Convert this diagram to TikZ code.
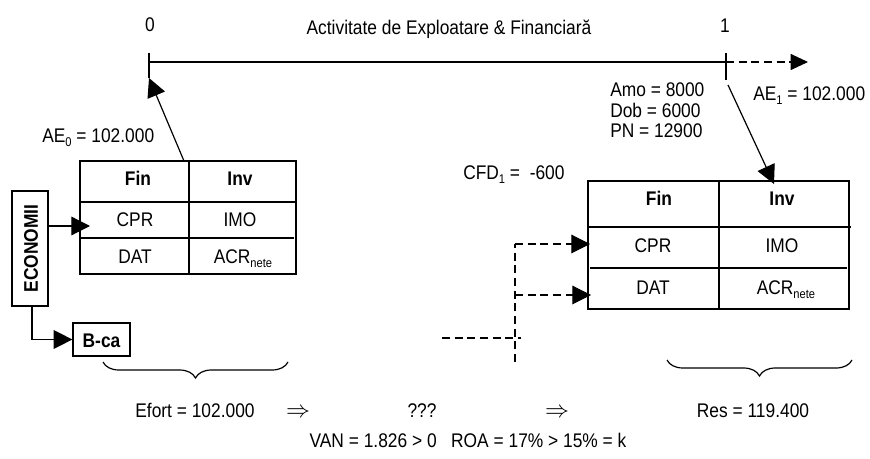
\documentclass[tikz,border=0pt]{standalone}
\usepackage{fontspec}
\setmainfont{Liberation Sans}[FakeStretch=0.88]
\usetikzlibrary{arrows.meta,decorations.pathreplacing}
\newcommand\sbs[1]{\raisebox{-0.3ex}{\fontsize{9.5}{10}\selectfont #1}}
\begin{document}
\begin{tikzpicture}[x=0.75pt,y=-0.75pt,
  font=\fontsize{14.8}{17}\selectfont,
  ln/.style={line width=0.9pt},
  tip/.style={ln,-{Triangle[length=14pt,width=14pt]}},
  dsh/.style={line width=0.8pt,dash pattern=on 6pt off 3.5pt},
  box/.style={draw,line width=0.9pt,inner sep=0pt},
  txt/.style={inner sep=0pt,anchor=base},
  txtw/.style={inner sep=0pt,anchor=base west},
  brc/.style={ln,decorate,decoration={brace,mirror,amplitude=12pt}}]
\useasboundingbox (0,0) rectangle (870,459);

% timeline
\coordinate (t0) at (149,62);
\coordinate (t1) at (726,62);
\coordinate (tend) at (808,62);
\coordinate (t0top) at (149,53);
\coordinate (t0bot) at (149,78);
\coordinate (t1top) at (726,53);
\coordinate (t1bot) at (726,80);
\draw[ln] (t0) -- (t1);
\draw[ln] (t0top) -- (t0bot);
\draw[ln] (t1top) -- (t1bot);
\draw[dsh,-{Triangle[length=13pt,width=12pt]}] (t1) -- (tend);

\node[txt] (n0) at (150,32) {0};
\node[txt] (n1) at (725,33) {1};
\node[txt] (title) at (449,35) {Activitate de Exploatare \& Financiară};

% left table
\node[box,minimum width=162pt,minimum height=84.75pt] (ltab) at (188,217.5) {};
\coordinate (lc1) at (189,161);
\coordinate (lc2) at (189,274);
\coordinate (lr1a) at (80,202); \coordinate (lr1b) at (297,202);
\coordinate (lr2a) at (80,238); \coordinate (lr2b) at (294,238);
\draw[ln] (lc1) -- (lc2);
\draw[ln] (lr1a) -- (lr1b);
\draw[ln] (lr2a) -- (lr2b);
\node[txt,font=\fontsize{14.8}{17}\selectfont\bfseries] (lfin) at (138,186) {Fin};
\node[txt,font=\fontsize{14.8}{17}\selectfont\bfseries] (linv) at (240,186) {Inv};
\node[txt] (lcpr) at (135,227) {CPR};
\node[txt] (limo) at (240,227) {IMO};
\node[txt] (ldat) at (135,264) {DAT};
\node[txt] (lacr) at (243,264) {ACR\sbs{nete}};

% right table
\node[box,minimum width=195.75pt,minimum height=96pt] (rtab) at (718.5,245) {};
\coordinate (rc1) at (719,181);
\coordinate (rc2) at (719,309);
\coordinate (rr1a) at (588,227); \coordinate (rr1b) at (851,227);
\coordinate (rr2a) at (590,268); \coordinate (rr2b) at (847,268);
\draw[ln] (rc1) -- (rc2);
\draw[ln] (rr1a) -- (rr1b);
\draw[ln] (rr2a) -- (rr2b);
\node[txt,font=\fontsize{14.8}{17}\selectfont\bfseries] (rfin) at (659,206) {Fin};
\node[txt,font=\fontsize{14.8}{17}\selectfont\bfseries] (rinv) at (782,206) {Inv};
\node[txt] (rcpr) at (653,253) {CPR};
\node[txt] (rimo) at (782,253) {IMO};
\node[txt] (rdat) at (653,295) {DAT};
\node[txt] (racr) at (786,295) {ACR\sbs{nete}};

% ECONOMII and B-ca
\node[box,minimum width=27pt,minimum height=86.25pt] (econ) at (30,248.5) {};
\node[rotate=90,inner sep=0pt,font=\fontsize{14.8}{17}\selectfont\bfseries] (econt) at (31,248.5) {ECONOMII};
\node[box,minimum width=42.75pt,minimum height=24.75pt] (bca) at (101.5,339.5) {};
\node[txt,font=\fontsize{14.8}{17}\selectfont\bfseries] (bcat) at (101.5,348) {B-ca};
\coordinate (eout) at (48,226);
\coordinate (ein) at (90,226);
\draw[tip] (eout) -- (ein);
\coordinate (edown) at (32,306);
\draw[tip] (edown) |- (bca.west);

% AE0 arrow
\coordinate (a0s) at (184,161);
\draw[tip] (a0s) -- (t0bot);
\node[txtw] (ae0) at (42,143) {AE\sbs{0} = 102.000};

% AE1 arrow
\coordinate (a1s) at (728,85);
\coordinate (a1e) at (774,184);
\draw[tip] (a1s) -- (a1e);
\node[txtw] (ae1) at (753,101) {AE\sbs{1} = 102.000};
\node[txtw] (amo) at (610,97) {Amo = 8000};
\node[txtw] (dob) at (610,118) {Dob = 6000};
\node[txtw] (pn) at (610,138) {PN = 12900};
\node[txtw] (cfd) at (463,180) {CFD\sbs{1} =\ \ -600};

% dashed connectors
\coordinate (dv1) at (515,244);
\coordinate (dv2) at (515,362);
\coordinate (dm) at (515,295);
\coordinate (dh1) at (442,338);
\coordinate (dh2) at (521,338);
\coordinate (cpre) at (590,244);
\coordinate (date) at (591,295);
\draw[dsh] (dv2) -- (dv1);
\draw[dsh,-{Triangle[length=14pt,width=14pt]}] (dv1) -- (cpre);
\draw[dsh,-{Triangle[length=14pt,width=14pt]}] (dm) -- (date);
\draw[dsh] (dh1) -- (dh2);

% braces
\coordinate (b1a) at (103,362); \coordinate (b1b) at (288,362);
\coordinate (b2a) at (667,360); \coordinate (b2b) at (852,360);
\draw[brc] (b1a) -- (b1b);
\draw[brc] (b2a) -- (b2b);

% bottom text
\node[txt] (efort) at (195,417) {Efort = 102.000};
\node[txt] (imp1) at (298,417) {\scalebox{1.25}{$\Rightarrow$}};
\node[txt] (qqq) at (422,417) {???};
\node[txt] (imp2) at (557,417) {\scalebox{1.25}{$\Rightarrow$}};
\node[txt] (res) at (753,417) {Res = 119.400};
\node[txt] (van) at (468,447) {VAN = 1.826 > 0\ \ \ ROA = 17\% > 15\% = k};
\end{tikzpicture}
\end{document}
